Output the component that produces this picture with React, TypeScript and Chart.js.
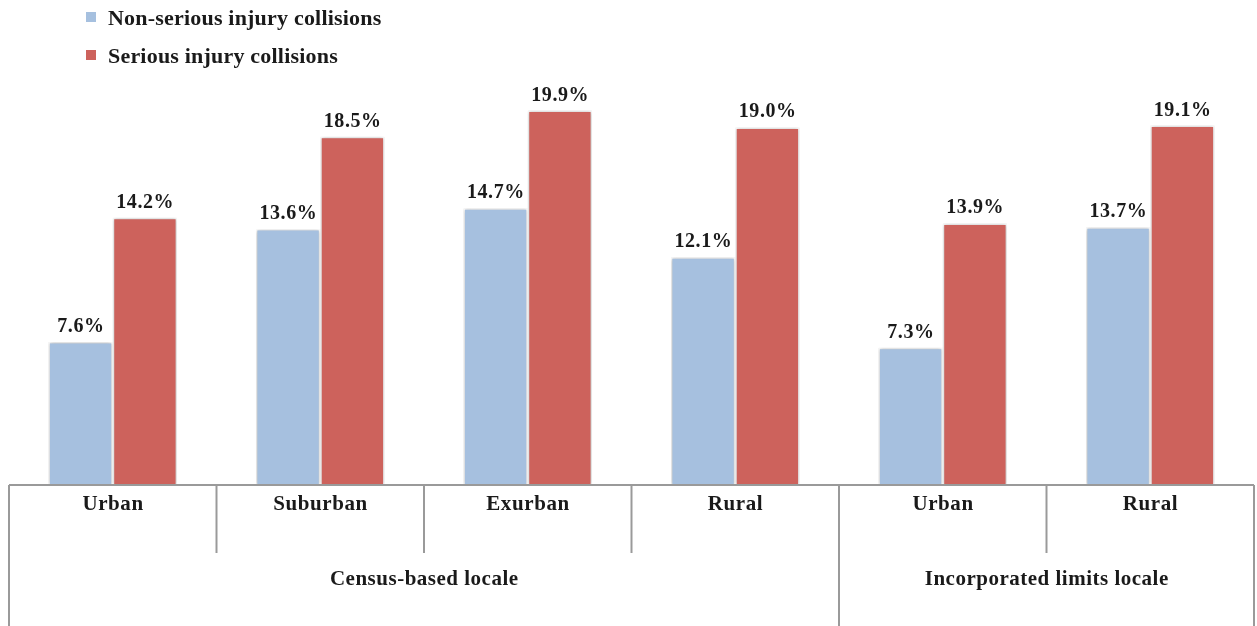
import React, { useEffect, useRef } from "react";
import { Chart, registerables } from "chart.js";

Chart.register(...registerables);

const categories = ["Urban", "Suburban", "Exurban", "Rural", "Urban", "Rural"];
const groups = [
  { label: "Census-based locale", start: 0, count: 4 },
  { label: "Incorporated limits locale", start: 4, count: 2 },
];
const nonSerious = [7.6, 13.6, 14.7, 12.1, 7.3, 13.7];
const serious = [14.2, 18.5, 19.9, 19.0, 13.9, 19.1];
const seriesNames = ["Non-serious injury collisions", "Serious injury collisions"];
const colors = ["#A6C0DF", "#CD625C"];

const FONT = "'Liberation Serif', 'Times New Roman', serif";
const LINE = "#9a9a9a";

function setSpacing(ctx: any, px: number) {
  if ("letterSpacing" in ctx) ctx.letterSpacing = px + "px";
}

function drawCentered(ctx: any, text: string, x: number, y: number, spacing: number) {
  setSpacing(ctx, spacing);
  ctx.fillText(text, x + spacing / 2, y);
  setSpacing(ctx, 0);
}

const decorPlugin = {
  id: "decor",
  beforeDatasetDraw(chart: any) {
    const ctx = chart.ctx;
    ctx.save();
    ctx.shadowColor = "rgba(0,0,0,0.28)";
    ctx.shadowBlur = 4;
    ctx.shadowOffsetX = 0;
    ctx.shadowOffsetY = 0;
  },
  afterDatasetDraw(chart: any) {
    chart.ctx.restore();
  },
  afterDraw(chart: any) {
    const ctx = chart.ctx;
    const area = chart.chartArea;
    const xs = chart.scales.x;
    const n = categories.length;
    const catW = (area.right - area.left) / n;
    const base = area.bottom;
    const h = chart.height;

    ctx.save();
    // value labels
    ctx.fillStyle = "#1a1a1a";
    ctx.font = `bold 20px ${FONT}`;
    ctx.textAlign = "center";
    ctx.textBaseline = "alphabetic";
    chart.data.datasets.forEach((ds: any, di: number) => {
      const meta = chart.getDatasetMeta(di);
      meta.data.forEach((bar: any, i: number) => {
        drawCentered(ctx, ds.data[i].toFixed(1) + "%", bar.x, bar.y - 10, 0.6);
      });
    });

    // axis lines
    ctx.strokeStyle = LINE;
    ctx.lineWidth = 2;
    ctx.beginPath();
    ctx.moveTo(area.left, base);
    ctx.lineTo(area.right, base);
    ctx.stroke();

    const groupEdges = new Set<number>();
    groups.forEach((g) => {
      groupEdges.add(g.start);
      groupEdges.add(g.start + g.count);
    });
    for (let i = 0; i <= n; i++) {
      const x = area.left + i * catW;
      ctx.beginPath();
      ctx.moveTo(x, base);
      ctx.lineTo(x, groupEdges.has(i) ? h : base + 68);
      ctx.stroke();
    }

    // category labels
    ctx.fillStyle = "#1a1a1a";
    ctx.font = `bold 21px ${FONT}`;
    ctx.textBaseline = "middle";
    categories.forEach((c, i) => {
      drawCentered(ctx, c, xs.getPixelForValue(i), base + 20, 0.6);
    });
    // group labels
    groups.forEach((g) => {
      const x0 = area.left + g.start * catW;
      const x1 = area.left + (g.start + g.count) * catW;
      drawCentered(ctx, g.label, (x0 + x1) / 2, base + 95, 0.5);
    });

    // legend
    ctx.textAlign = "left";
    ctx.font = `bold 22px ${FONT}`;
    seriesNames.forEach((s, i) => {
      const y = 18 + i * 38;
      ctx.fillStyle = colors[i];
      ctx.fillRect(86, y - 6, 10, 10);
      ctx.fillStyle = "#1a1a1a";
      setSpacing(ctx, 0.2);
      ctx.fillText(s, 108, y + 1);
      setSpacing(ctx, 0);
    });
    ctx.restore();
  },
};

export default function App() {
  const ref = useRef<HTMLCanvasElement>(null);
  useEffect(() => {
    if (!ref.current) return;
    const chart = new Chart(ref.current, {
      type: "bar",
      data: {
        labels: categories,
        datasets: [
          {
            label: seriesNames[0],
            data: nonSerious,
            backgroundColor: colors[0],
            borderColor: "#ffffff",
            borderWidth: 1.5,
            categoryPercentage: 0.62,
            barPercentage: 1,
          },
          {
            label: seriesNames[1],
            data: serious,
            backgroundColor: colors[1],
            borderColor: "#ffffff",
            borderWidth: 1.5,
            categoryPercentage: 0.62,
            barPercentage: 1,
          },
        ],
      },
      options: {
        responsive: false,
        animation: false,
        layout: { padding: { left: 9, right: 3, top: 71, bottom: 141 } },
        plugins: { legend: { display: false }, tooltip: { enabled: false } },
        scales: {
          x: { display: false, grid: { display: false } },
          y: { display: false, min: 0, max: 22 },
        },
      },
      plugins: [decorPlugin],
    });
    return () => chart.destroy();
  }, []);
  return (
    <div style={{ position: "absolute", left: 0, top: 0, width: 1257, height: 626, background: "#fff" }}>
      <canvas ref={ref} width={1257} height={626} style={{ display: "block" }} />
    </div>
  );
}
